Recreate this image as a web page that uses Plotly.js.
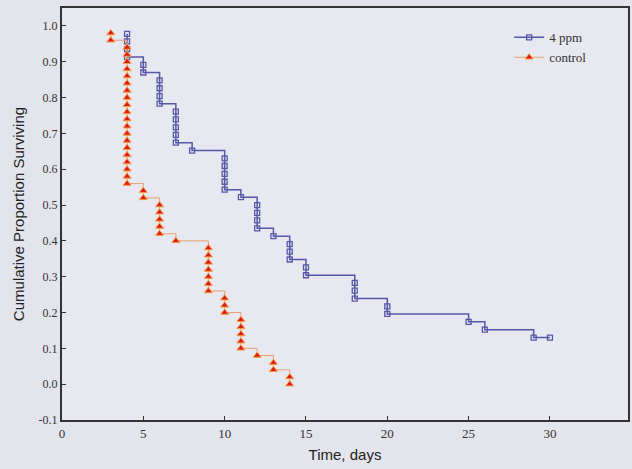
<!DOCTYPE html>
<html>
<head>
<meta charset="utf-8">
<script src="https://cdn.plot.ly/plotly-3.0.1.min.js"></script>
<style>html,body{margin:0;padding:0;background:#e4e4ec;}#chart{width:632px;height:469px;}</style>
</head>
<body>
<div id="chart"></div>
<script>
// 4 ppm group: event times (days) and cumulative proportion surviving
var ppmTime = [4,4,4,4, 5,5, 6,6,6,6, 7,7,7,7,7, 8, 10,10,10,10,10, 11, 12,12,12,12, 13, 14,14,14, 15,15, 18,18,18, 20,20, 25, 26, 29, 30];
var ppmSurv = [0.978,0.957,0.935,0.913, 0.891,0.870, 0.848,0.826,0.804,0.783, 0.761,0.739,0.717,0.696,0.674, 0.652, 0.630,0.609,0.587,0.565,0.543, 0.522, 0.500,0.478,0.457,0.435, 0.413, 0.391,0.370,0.348, 0.326,0.304, 0.283,0.261,0.239, 0.217,0.196, 0.174, 0.152, 0.130, 0.130];
// control group
var ctrlTime = [3,3, 4,4,4,4,4,4,4,4,4,4,4,4,4,4,4,4,4,4,4,4, 5,5, 6,6,6,6,6, 7, 9,9,9,9,9,9,9, 10,10,10, 11,11,11,11,11, 12, 13,13, 14,14];
var ctrlSurv = [0.98,0.96, 0.94,0.92,0.90,0.88,0.86,0.84,0.82,0.80,0.78,0.76,0.74,0.72,0.70,0.68,0.66,0.64,0.62,0.60,0.58,0.56, 0.54,0.52, 0.50,0.48,0.46,0.44,0.42, 0.40, 0.38,0.36,0.34,0.32,0.30,0.28,0.26, 0.24,0.22,0.20, 0.18,0.16,0.14,0.12,0.10, 0.08, 0.06,0.04, 0.02,0.00];
var seriesNames = ['4 ppm', 'control'];
var xTicks = [0,5,10,15,20,25,30,35];
var yTicks = [-0.1,0,0.1,0.2,0.3,0.4,0.5,0.6,0.7,0.8,0.9,1.0];

var traces = [
  {x: ppmTime, y: ppmSurv, name: seriesNames[0], type: 'scatter', mode: 'lines+markers',
   line: {shape: 'hv', color: '#5558a6', width: 1.5},
   marker: {symbol: 'square-open', size: 5, color: '#5558a6', line: {width: 1.3}}},
  {x: ctrlTime, y: ctrlSurv, name: seriesNames[1], type: 'scatter', mode: 'lines+markers',
   line: {shape: 'hv', color: '#e8a070', width: 1},
   marker: {symbol: 'triangle-up', size: 7, color: '#e01818', line: {color: '#f0a040', width: 1}}}
];

var layout = {
  width: 632, height: 469,
  margin: {l: 62, r: 4, t: 8, b: 49},
  paper_bgcolor: '#e4e4ec',
  plot_bgcolor: '#e8e8f0',
  showlegend: true,
  legend: {x: 0.79, y: 0.965, xanchor: 'left', yanchor: 'top', bgcolor: 'rgba(0,0,0,0)',
           font: {family: 'Liberation Serif', size: 13, color: '#333'}, tracegroupgap: 0},
  xaxis: {
    range: [0, 34.8], tickvals: xTicks, ticktext: xTicks.map(String),
    showgrid: false, zeroline: false,
    showline: true, linecolor: '#333', linewidth: 2, mirror: true,
    ticks: 'inside', ticklen: 4, tickcolor: '#333',
    tickfont: {family: 'Liberation Serif', size: 13, color: '#333'},
    title: {text: 'Time, days', font: {family: 'Liberation Sans', size: 15, color: '#222'}, standoff: 10}
  },
  yaxis: {
    range: [-0.1, 1.05], tickvals: yTicks, ticktext: yTicks.map(function(v){return v.toFixed(1);}),
    showgrid: false, zeroline: false,
    showline: true, linecolor: '#333', linewidth: 2, mirror: true,
    ticks: 'inside', ticklen: 4, tickcolor: '#333',
    tickfont: {family: 'Liberation Serif', size: 12, color: '#333'},
    title: {text: 'Cumulative Proportion Surviving', font: {family: 'Liberation Sans', size: 15, color: '#222'}, standoff: 10}
  }
};

Plotly.newPlot('chart', traces, layout, {displayModeBar: false, staticPlot: true});
</script>
</body>
</html>
